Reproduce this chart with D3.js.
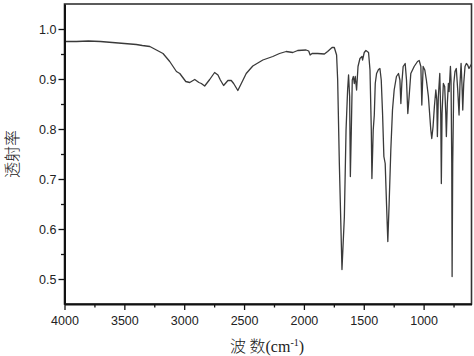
<!DOCTYPE html>
<html>
<head>
<meta charset="utf-8">
<script src="https://cdn.jsdelivr.net/npm/d3@7"></script>
<style>
  body { margin: 0; background: #fff; }
  svg { display: block; }
</style>
</head>
<body>
<div id="chart"></div>
<script>
// spectrum: wavenumber (cm-1) and transmittance
const wavenumber = [4000, 3900, 3800, 3700, 3600, 3500, 3400, 3350, 3287, 3177, 3121, 3065, 3037, 2987, 2954, 2912, 2877, 2857, 2829, 2787, 2746, 2718, 2698, 2671, 2635, 2607, 2587, 2552, 2523, 2482, 2427, 2343, 2260, 2204, 2148, 2093, 2052, 1982, 1960, 1948, 1932, 1885, 1829, 1802, 1765, 1746, 1727, 1718, 1704, 1682, 1662, 1648, 1635, 1627, 1618, 1612, 1604, 1596, 1587, 1579, 1571, 1560, 1548, 1532, 1515, 1510, 1496, 1482, 1460, 1448, 1437, 1432, 1421, 1412, 1404, 1393, 1377, 1365, 1354, 1343, 1332, 1321, 1310, 1299, 1288, 1274, 1260, 1246, 1227, 1210, 1198, 1190, 1182, 1171, 1154, 1143, 1132, 1121, 1107, 1079, 1051, 1037, 1023, 1015, 1004, 990, 977, 960, 940, 932, 921, 910, 898, 890, 885, 877, 865, 857, 852, 846, 835, 824, 815, 810, 802, 793, 787, 776, 771, 765, 762, 757, 748, 738, 727, 715, 704, 696, 687, 679, 673, 665, 654, 643, 632, 621, 600];
const transmittance = [0.975, 0.975, 0.976, 0.975, 0.973, 0.971, 0.969, 0.967, 0.965, 0.951, 0.935, 0.915, 0.911, 0.895, 0.893, 0.899, 0.893, 0.891, 0.886, 0.899, 0.913, 0.908, 0.898, 0.887, 0.897, 0.897, 0.891, 0.877, 0.891, 0.911, 0.926, 0.938, 0.945, 0.951, 0.955, 0.953, 0.957, 0.958, 0.956, 0.948, 0.951, 0.951, 0.950, 0.955, 0.963, 0.963, 0.948, 0.898, 0.731, 0.519, 0.625, 0.798, 0.878, 0.908, 0.865, 0.705, 0.798, 0.898, 0.905, 0.891, 0.905, 0.878, 0.925, 0.941, 0.945, 0.938, 0.953, 0.957, 0.953, 0.918, 0.798, 0.701, 0.798, 0.828, 0.891, 0.911, 0.919, 0.921, 0.898, 0.831, 0.745, 0.731, 0.651, 0.575, 0.651, 0.758, 0.838, 0.878, 0.905, 0.911, 0.898, 0.851, 0.891, 0.925, 0.931, 0.898, 0.831, 0.865, 0.911, 0.925, 0.935, 0.937, 0.925, 0.848, 0.925, 0.918, 0.898, 0.865, 0.798, 0.781, 0.805, 0.845, 0.878, 0.858, 0.785, 0.865, 0.911, 0.831, 0.691, 0.831, 0.891, 0.885, 0.831, 0.785, 0.851, 0.891, 0.875, 0.925, 0.898, 0.731, 0.505, 0.731, 0.891, 0.915, 0.921, 0.878, 0.828, 0.891, 0.931, 0.885, 0.838, 0.891, 0.925, 0.931, 0.928, 0.921, 0.93];

const xTicks = [4000, 3500, 3000, 2500, 2000, 1500, 1000];
const xMinor = [3750, 3250, 2750, 2250, 1750, 1250, 750];
const yTicks = [0.5, 0.6, 0.7, 0.8, 0.9, 1.0];
const yMinor = [0.55, 0.65, 0.75, 0.85, 0.95];

const width = 474, height = 356;
const margin = { left: 64.5, right: 2.5, top: 4, bottom: 52 };

const svg = d3.select("#chart")
    .append("svg")
    .attr("width", width)
    .attr("height", height);

const x = d3.scaleLinear()
    .domain([4000, 600])
    .range([margin.left, width - margin.right]);
const y = d3.scaleLinear()
    .domain([0.45, 1.05])
    .range([height - margin.bottom, margin.top]);

const data = wavenumber.map((w, i) => ({ w: w, t: transmittance[i] }));

// frame (top and right)
svg.append("rect")
    .attr("x", x.range()[0])
    .attr("y", y.range()[1])
    .attr("width", x.range()[1] - x.range()[0])
    .attr("height", y.range()[0] - y.range()[1])
    .attr("fill", "none")
    .attr("stroke", "#333")
    .attr("stroke-width", 1.6);

// spectrum
svg.append("path")
    .datum(data)
    .attr("fill", "none")
    .attr("stroke", "#3a3a3a")
    .attr("stroke-width", 1.3)
    .attr("stroke-linejoin", "round")
    .attr("d", d3.line().x(d => x(d.w)).y(d => y(d.t)));

// x axis
const xAxis = svg.append("g")
    .attr("transform", "translate(0," + y.range()[0] + ")")
    .call(d3.axisBottom(x).tickValues(xTicks).tickFormat(d3.format("d")).tickSize(6).tickSizeOuter(0));
svg.append("g")
    .attr("transform", "translate(0," + y.range()[0] + ")")
    .call(d3.axisBottom(x).tickValues(xMinor).tickFormat("").tickSize(3.5).tickSizeOuter(0))
    .select(".domain").remove();

// y axis
const yAxis = svg.append("g")
    .attr("transform", "translate(" + x.range()[0] + ",0)")
    .call(d3.axisLeft(y).tickValues(yTicks).tickFormat(d3.format(".1f")).tickSize(6).tickSizeOuter(0));
svg.append("g")
    .attr("transform", "translate(" + x.range()[0] + ",0)")
    .call(d3.axisLeft(y).tickValues(yMinor).tickFormat("").tickSize(3.5).tickSizeOuter(0))
    .select(".domain").remove();

svg.selectAll(".domain").attr("stroke", "#111").attr("stroke-width", 2);
svg.selectAll(".tick line").attr("stroke", "#111").attr("stroke-width", 1.3);
svg.selectAll(".tick text")
    .style("font-family", "'Liberation Sans', Arial, sans-serif")
    .style("font-size", "12.5px")
    .attr("fill", "#222");
xAxis.selectAll(".tick text").attr("dy", "0.95em");
yAxis.selectAll(".tick text").attr("x", -8);

// axis titles
svg.append("text")
    .attr("transform", "translate(18," + ((y.range()[0] + y.range()[1]) / 2) + ") rotate(-90)")
    .attr("text-anchor", "middle")
    .style("font-family", "'Noto Sans CJK SC', sans-serif")
    .style("font-weight", 300)
    .style("font-size", "16px")
    .attr("fill", "#222")
    .text("透射率");

const xt = svg.append("text")
    .attr("x", 267)
    .attr("y", 352)
    .attr("text-anchor", "middle")
    .style("font-family", "'Noto Sans CJK SC', sans-serif")
    .style("font-weight", 300)
    .style("font-size", "16px")
    .attr("fill", "#222");
xt.append("tspan").text("波 数");
xt.append("tspan").style("font-family", "'Liberation Serif', serif").text("(cm");
xt.append("tspan").style("font-family", "'Liberation Serif', serif").style("font-size", "10px").attr("dy", "-6").text("-1");
xt.append("tspan").style("font-family", "'Liberation Serif', serif").attr("dy", "6").text(")");
</script>
</body>
</html>
